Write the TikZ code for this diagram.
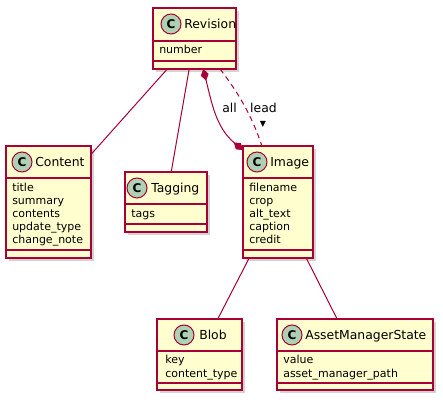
\documentclass[tikz,border=0pt]{standalone}
\usepackage{fontspec}
\setmainfont{DejaVu Sans}
\usetikzlibrary{arrows.meta,shadows}

\definecolor{umlred}{HTML}{A80036}
\definecolor{umlfill}{HTML}{FEFECE}
\definecolor{umlgreen}{HTML}{ADD1B2}
\newcommand{\upx}{0.75pt}

\tikzset{
	umlclass/.style={draw=umlred, fill=umlfill, line width=1.1pt, inner sep=0pt, outer sep=0pt,
		drop shadow={shadow xshift=2.5pt, shadow yshift=-2.5pt, opacity=0.35, fill=black!50}},
	umlsep/.style={draw=umlred, line width=1.1pt},
	umlbadge/.style={circle, draw=umlred, fill=umlgreen, line width=0.75pt, minimum size=15pt,
		inner sep=0pt, font=\fontsize{9}{9}\selectfont\bfseries},
	umlname/.style={anchor=base west, inner sep=0pt, font=\fontsize{9.3}{11}\selectfont},
	umlattr/.style={anchor=base west, inner sep=0pt, font=\fontsize{8.25}{10}\selectfont},
	umlline/.style={draw=umlred, line width=0.75pt},
	umllabel/.style={anchor=base, inner sep=0pt, font=\fontsize{9.3}{11}\selectfont},
	umlcomp/.style={umlline, {Diamond[length=9pt,width=6pt,fill=umlred]}-{Diamond[length=9pt,width=6pt,fill=umlred]}}
}

\begin{document}
\begin{tikzpicture}[x=0.75pt, y=-0.75pt]
	\useasboundingbox (0,0) rectangle (443,402);

	% Revision
	\node[umlclass, minimum width=83*\upx, minimum height=61*\upx] (revision) at (194.5,38.5) {};
	\draw[umlsep] ([yshift=-33*\upx]revision.north west) -- ([yshift=-33*\upx]revision.north east);
	\draw[umlsep] ([yshift=8*\upx]revision.south west) -- ([yshift=8*\upx]revision.south east);
	\node[umlbadge] (revision-c) at (171,24) {C};
	\node[umlname] (revision-n) at (184,28.5) {Revision};
	\node[umlattr] (revision-a1) at (159,54) {number};

	% Content
	\node[umlclass, minimum width=85*\upx, minimum height=112*\upx] (content) at (48.5,202) {};
	\draw[umlsep] ([yshift=-32*\upx]content.north west) -- ([yshift=-32*\upx]content.north east);
	\draw[umlsep] ([yshift=8*\upx]content.south west) -- ([yshift=8*\upx]content.south east);
	\node[umlbadge] (content-c) at (22,162) {C};
	\node[umlname] (content-n) at (35,166.5) {Content};
	\foreach \t [count=\i] in {title,summary,contents,update\_type,change\_note}
		\node[umlattr] (content-a\i) at (12,179+13*\i) {\t};

	% Tagging
	\node[umlclass, minimum width=82*\upx, minimum height=60*\upx] (tagging) at (166,202) {};
	\draw[umlsep] ([yshift=-32*\upx]tagging.north west) -- ([yshift=-32*\upx]tagging.north east);
	\draw[umlsep] ([yshift=8*\upx]tagging.south west) -- ([yshift=8*\upx]tagging.south east);
	\node[umlbadge] (tagging-c) at (137,188) {C};
	\node[umlname] (tagging-n) at (151,192.5) {Tagging};
	\node[umlattr] (tagging-a1) at (131,218) {tags};

	% Image
	\node[umlclass, minimum width=70*\upx, minimum height=112*\upx] (image) at (278,202) {};
	\draw[umlsep] ([yshift=-32*\upx]image.north west) -- ([yshift=-32*\upx]image.north east);
	\draw[umlsep] ([yshift=8*\upx]image.south west) -- ([yshift=8*\upx]image.south east);
	\node[umlbadge] (image-c) at (257,162) {C};
	\node[umlname] (image-n) at (270,166.5) {Image};
	\foreach \t [count=\i] in {filename,crop,alt\_text,caption,credit}
		\node[umlattr] (image-a\i) at (249,179+13*\i) {\t};

	% Blob
	\node[umlclass, minimum width=85*\upx, minimum height=71*\upx] (blob) at (199.5,354.5) {};
	\draw[umlsep] ([yshift=-32*\upx]blob.north west) -- ([yshift=-32*\upx]blob.north east);
	\draw[umlsep] ([yshift=7*\upx]blob.south west) -- ([yshift=7*\upx]blob.south east);
	\node[umlbadge] (blob-c) at (184,335) {C};
	\node[umlname] (blob-n) at (199,339.5) {Blob};
	\node[umlattr] (blob-a1) at (165,364) {key};
	\node[umlattr] (blob-a2) at (165,378) {content\_type};

	% AssetManagerState
	\node[umlclass, minimum width=156*\upx, minimum height=71*\upx] (assetstate) at (355,354.5) {};
	\draw[umlsep] ([yshift=-32*\upx]assetstate.north west) -- ([yshift=-32*\upx]assetstate.north east);
	\draw[umlsep] ([yshift=7*\upx]assetstate.south west) -- ([yshift=7*\upx]assetstate.south east);
	\node[umlbadge] (assetstate-c) at (292,335) {C};
	\node[umlname] (assetstate-n) at (305,339.5) {AssetManagerState};
	\node[umlattr] (assetstate-a1) at (283,364) {value};
	\node[umlattr] (assetstate-a2) at (283,378) {asset\_manager\_path};

	% links
	\path[umlline]
	(revision) edge (content) edge (tagging);
	\path[umlline]
	(image) edge (blob) edge (assetstate);
	\draw[umlcomp] (revision.-74) .. controls +(8.5,34) and +(-27,-22.5) .. (image.124);
	\draw[umlline, dash pattern=on 4pt off 3pt] (revision.-50) .. controls +(19,25) and +(-10,-30) .. (image.106);
	\node[umllabel] (all-l) at (229.5,113) {all};
	\node[umllabel] (lead-l) at (263.5,113) {lead};
	\node[inner sep=0pt, font=\fontsize{6}{6}\selectfont] (lead-dir) at (263,124) {▼};
\end{tikzpicture}
\end{document}
